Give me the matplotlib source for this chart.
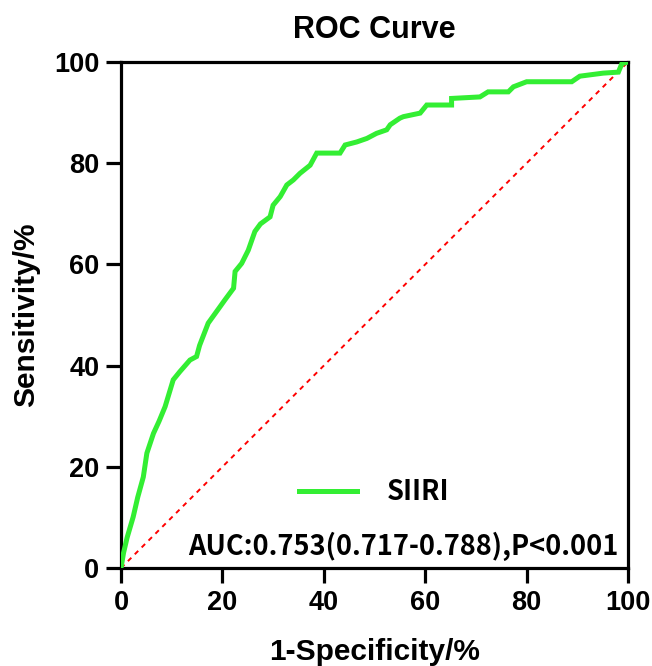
import matplotlib
matplotlib.use('Agg')
import matplotlib.pyplot as plt
from matplotlib import font_manager

# ROC points (percent)
fpr = [0, 0.5, 1.2, 2.4, 3.3, 4.4, 5.1, 6.4, 7.5, 8.7, 10.3, 11.6, 13.6, 14.9,
       15.5, 17.2, 19.5, 20.5, 22.2, 22.5, 23.8, 25.1, 26.4, 27.5, 29.4, 30.0,
       31.4, 32.7, 34.0, 35.3, 37.3, 38.6, 43.2, 44.2, 46.5, 48.5, 50.4, 52.4,
       53.1, 55.0, 55.7, 59.0, 60.3, 65.2, 65.2, 70.8, 72.4, 76.4, 77.4, 80.0,
       88.9, 90.5, 95.1, 98.1, 98.8, 100]
tpr = [0, 3, 6, 10.1, 14, 18, 22.7, 26.6, 29, 31.9, 37.2, 38.8, 41.1, 41.8,
       44, 48.4, 51.6, 53, 55.3, 58.6, 60.2, 62.8, 66.5, 68, 69.4, 71.7,
       73.4, 75.7, 76.7, 78.0, 79.6, 82, 82, 83.6, 84.2, 84.9, 85.9, 86.6,
       87.6, 88.9, 89.2, 89.9, 91.5, 91.5, 92.8, 93.1, 94.1, 94.1, 95.1, 96.1,
       96.1, 97.2, 97.8, 98, 99.7, 100]
ref_line = [0, 100]
ticks = [0, 20, 40, 60, 80, 100]
series_name = 'SIIRI'
auc_text = 'AUC:0.753(0.717-0.788),P<0.001'

# pick the regular-width Liberation Sans Bold file directly (avoid the Narrow one)
arial_bold = None
for f in font_manager.findSystemFonts():
    if f.endswith('LiberationSans-Bold.ttf'):
        arial_bold = f
        break

def fp(size):
    if arial_bold:
        return font_manager.FontProperties(fname=arial_bold, size=size)
    return font_manager.FontProperties(family='DejaVu Sans', weight='bold', size=size)

fig = plt.figure(figsize=(6.52, 6.66), dpi=100)
ax = fig.add_axes([0.1856, 0.1471, 0.7776, 0.7598])

ax.plot(ref_line, ref_line, color='red', lw=1.4, linestyle=(0, (2.5, 2.5)), zorder=2)
ax.plot(fpr, tpr, color='#33EE33', lw=3.6, label=series_name, zorder=3,
        solid_joinstyle='miter')

ax.set_xlim(0, 100)
ax.set_ylim(0, 100)
ax.set_xticks(ticks)
ax.set_yticks(ticks)
for s in ax.spines.values():
    s.set_linewidth(2.3)
ax.tick_params(direction='out', length=10.5, width=2.3, pad=5)
for lab in ax.get_xticklabels() + ax.get_yticklabels():
    lab.set_fontproperties(fp(19.5))

ax.set_title('ROC Curve', fontproperties=fp(22), pad=17)
ax.set_xlabel('1-Specificity/%', fontproperties=fp(21.5), labelpad=16)
ax.set_ylabel('Sensitivity/%', fontproperties=fp(21.5), labelpad=10)

leg = ax.legend(loc='center', bbox_to_anchor=(0.50, 0.150), frameon=False,
                handlelength=2.15, handletextpad=1.1,
                prop={'family': ['Noto Sans CJK SC', 'DejaVu Sans'],
                      'weight': 'bold', 'size': 19.5})
ax.text(0.982, 0.026, auc_text, transform=ax.transAxes, ha='right', va='baseline',
        fontsize=19.6, fontweight='bold', family=['Noto Sans CJK SC', 'DejaVu Sans'])

fig.savefig('out.png', dpi=100)
